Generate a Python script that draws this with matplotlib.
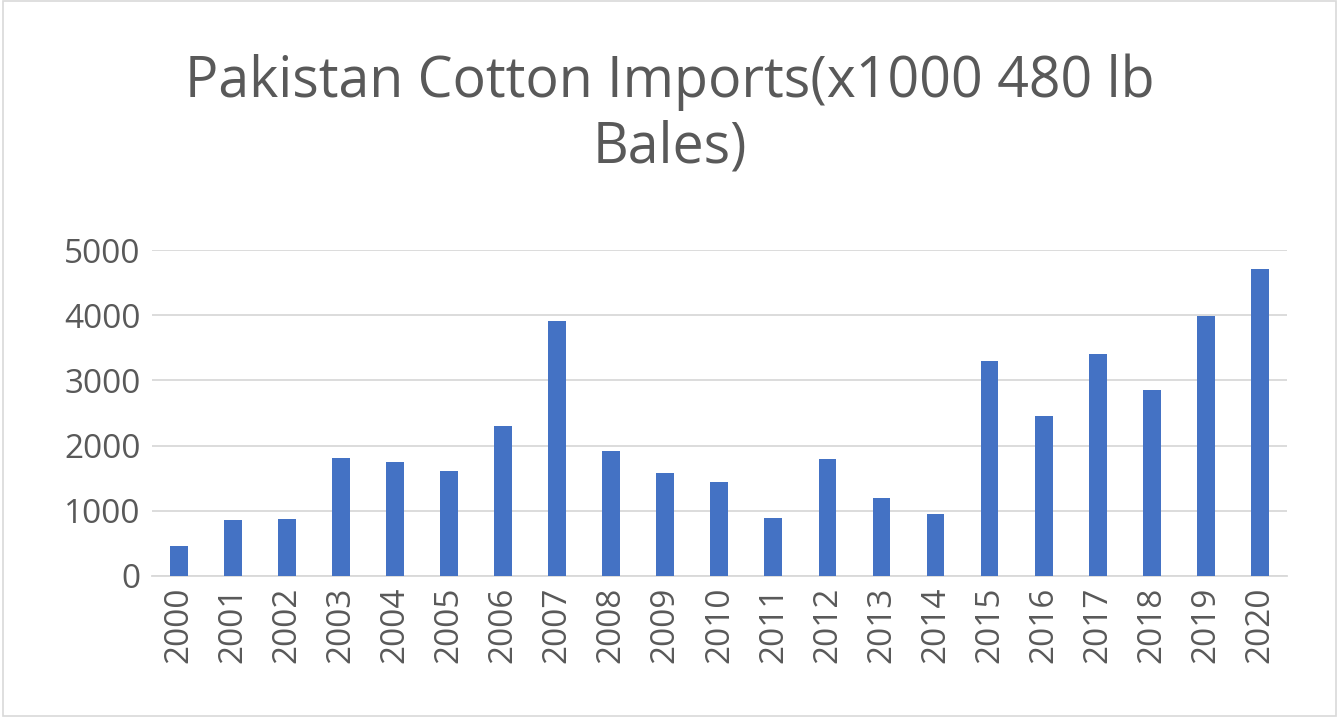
import matplotlib
matplotlib.use("Agg")
import matplotlib.pyplot as plt

years = [str(y) for y in range(2000, 2021)]
imports = [460, 860, 875, 1810, 1750, 1610, 2300, 3910, 1920, 1580, 1440,
           890, 1795, 1200, 950, 3300, 2455, 3405, 2855, 3990, 4710]

plt.rcParams['font.family'] = ['Open Sans', 'DejaVu Sans']
fig = plt.figure(figsize=(13.39, 7.17), dpi=100)
ax = fig.add_axes([0.1135, 0.197, 0.8475, 0.454])
ax.bar(years, imports, width=0.33, color='#4472C4', zorder=3)
ax.set_ylim(0, 5000)
ax.set_xlim(-0.5, len(years) - 0.5)
ax.set_yticks(range(0, 5001, 1000))
ax.grid(axis='y', color='#D9D9D9', linewidth=1.3, zorder=0)
for s in ['top', 'right', 'left']:
    ax.spines[s].set_visible(False)
ax.spines['bottom'].set_color('#D9D9D9')
ax.spines['bottom'].set_linewidth(1.3)
ax.tick_params(axis='both', length=0, labelsize=24, colors='#595959', pad=8)
plt.setp(ax.get_xticklabels(), rotation=90)
fig.text(0.5, 0.84, 'Pakistan Cotton Imports(x1000 480 lb\nBales)', ha='center', va='center',
         fontsize=40, color='#595959', linespacing=1.2)
fig.patches.append(plt.Rectangle((0.002, 0.002), 0.996, 0.996, transform=fig.transFigure,
                                 fill=False, edgecolor='#D9D9D9', linewidth=1.2))
fig.savefig('out.png', dpi=100)
